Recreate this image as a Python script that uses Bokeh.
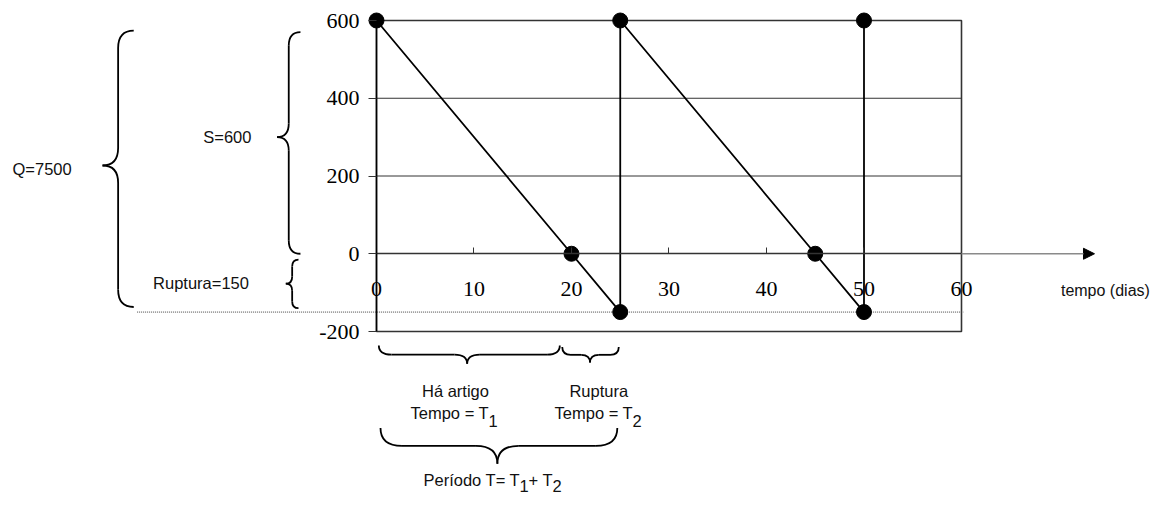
from bokeh.plotting import figure
from bokeh.models import FixedTicker, Arrow, NormalHead, Range1d, PrintfTickFormatter
from bokeh.core.properties import value
from bokeh.embed import file_html
from bokeh.resources import INLINE

# ---- data ----
days = [0, 20, 25, 25, 45, 50, 50]
stock = [600, 0, -150, 600, 0, -150, 600]
x_ticks = [0, 10, 20, 30, 40, 50, 60]
y_ticks = [-200, 0, 200, 400, 600]
rupture_level = -150

SANS = value("Liberation Sans")

p = figure(width=1150, height=495, output_backend="svg", toolbar_location=None,
           x_range=Range1d(-38.564, 79.385), y_range=Range1d(-621.86, 651.45),
           min_border=0, outline_line_color=None)
p.xgrid.visible = False
p.ygrid.visible = False

# axes placed at data locations
xa = p.xaxis[0]
xa.fixed_location = 0
xa.ticker = FixedTicker(ticks=x_ticks)
xa.formatter = PrintfTickFormatter(format="%d")
xa.bounds = (x_ticks[0], x_ticks[-1])
xa.major_tick_in = 6
xa.major_tick_out = 0
xa.minor_tick_line_color = None
xa.major_tick_line_color = "#333333"
xa.axis_line_color = "#333333"
xa.axis_line_width = 1.5
xa.major_label_standoff = 28
xa.major_label_text_font = "Liberation Serif"
xa.major_label_text_font_size = "22px"
xa.major_label_text_color = "black"

ya = p.yaxis[0]
ya.fixed_location = 0
ya.ticker = FixedTicker(ticks=y_ticks)
ya.formatter = PrintfTickFormatter(format="%d")
ya.bounds = (y_ticks[0], y_ticks[-1])
ya.major_tick_in = 0
ya.major_tick_out = 8
ya.minor_tick_line_color = None
ya.major_tick_line_color = "#333333"
ya.axis_line_color = "black"
ya.axis_line_width = 1.5
ya.major_label_standoff = 9
ya.major_label_text_font = "Liberation Serif"
ya.major_label_text_font_size = "22px"
ya.major_label_text_color = "black"

# plot box and grid lines
p.quad(left=[x_ticks[0]], right=[x_ticks[-1]], bottom=[y_ticks[0]], top=[y_ticks[-1]],
       fill_color=None, line_color="#333333", line_width=1.6)
inner = [t for t in y_ticks if y_ticks[0] < t < y_ticks[-1] and t != 0]
p.segment(x0=[x_ticks[0]] * len(inner), y0=inner, x1=[x_ticks[-1]] * len(inner), y1=inner,
          line_color="#333333", line_width=1)

# rupture dotted line
p.segment(x0=[-24.55], y0=[rupture_level], x1=[60.2], y1=[rupture_level],
          line_color="#444444", line_width=1, line_dash="1 1")

# arrow extension of time axis
p.add_layout(Arrow(end=NormalHead(size=11, fill_color="black", line_color="black"),
                   x_start=x_ticks[-1], y_start=0, x_end=73.64, y_end=0,
                   line_color="#8a8a8a", line_width=1.5))

# stock series
p.line(days, stock, line_color="black", line_width=1.8)
p.scatter(days, stock, size=15, fill_color="black", line_color="black")

# ---- braces ----
qx0, qy0, qx1, qy1, qcx, qcy = [], [], [], [], [], []
sx0, sy0, sx1, sy1 = [], [], [], []


def hbrace(xl, xr, xt, ye, yt, r):
    ym = (ye + yt) / 2
    for a in [(xl, ye, xl + r, ym, xl, ym), (xt - r, ym, xt, yt, xt, ym),
              (xt, yt, xt + r, ym, xt, ym), (xr - r, ym, xr, ye, xr, ym)]:
        qx0.append(a[0]); qy0.append(a[1]); qx1.append(a[2]); qy1.append(a[3]); qcx.append(a[4]); qcy.append(a[5])
    for s in [(xl + r, ym, xt - r, ym), (xt + r, ym, xr - r, ym)]:
        sx0.append(s[0]); sy0.append(s[1]); sx1.append(s[2]); sy1.append(s[3])


def vbrace(ybot, ytop, ytip, xe, xtip, r):
    xm = (xe + xtip) / 2
    for a in [(xe, ytop, xm, ytop - r, xm, ytop), (xm, ytip + r, xtip, ytip, xm, ytip),
              (xtip, ytip, xm, ytip - r, xm, ytip), (xm, ybot + r, xe, ybot, xm, ybot)]:
        qx0.append(a[0]); qy0.append(a[1]); qx1.append(a[2]); qy1.append(a[3]); qcx.append(a[4]); qcy.append(a[5])
    for s in [(xm, ytop - r, xm, ytip + r), (xm, ytip - r, xm, ybot + r)]:
        sx0.append(s[0]); sy0.append(s[1]); sx1.append(s[2]); sy1.append(s[3])


vbrace(-137, 574, 227, -24.9, -28.1, 45)     # Q
vbrace(0, 570, 300, -7.8, -10.2, 35)         # S
vbrace(-140, -15, -77, -8.0, -9.3, 18)       # Ruptura
hbrace(0.24, 18.8, 9.3, -236, -283, 1.3)     # T1
hbrace(19.05, 24.85, 21.9, -240, -280, 0.9)  # T2
hbrace(0.41, 24.7, 12.4, -448, -540, 2.2)    # T

p.quadratic(x0=qx0, y0=qy0, x1=qx1, y1=qy1, cx=qcx, cy=qcy, line_color="black", line_width=1.8)
p.segment(x0=sx0, y0=sy0, x1=sx1, y1=sy1, line_color="black", line_width=1.8)

# ---- texts ----
p.text(x=[-34.3, -15.3, -18.0, 8.1, 22.8],
       y=[219, 300, -76.5, -352, -352],
       text=["Q=7500", "S=600", "Ruptura=150", "Há artigo", "Ruptura"],
       text_font=SANS, text_font_size="16.5px", text_align="center", text_baseline="middle",
       text_color="#111111")
p.text(x=[70.2], y=[-94.5], text=["tempo (dias)"], text_font=SANS, text_font_size="16px",
       text_align="left", text_baseline="middle", text_color="#111111")

# subscripted labels
p.text(x=[3.49, 3.49, 18.26, 18.26, 4.82, 4.82, 4.82, 4.82],
       y=[-410.9, -410.9, -410.9, -410.9, -581, -581, -581, -581],
       text=["Tempo = T", "1", "Tempo = T", "2", "Período T= T", "1", "+ T", "2"],
       x_offset=[0, 78, 0, 78, 0, 96, 105, 129],
       y_offset=[0, 8, 0, 8, 0, 6, 0, 6],
       text_font=SANS, text_font_size="16.5px", text_align="left", text_baseline="alphabetic",
       text_color="#111111")

open("out.html", "w").write(file_html(p, INLINE))
